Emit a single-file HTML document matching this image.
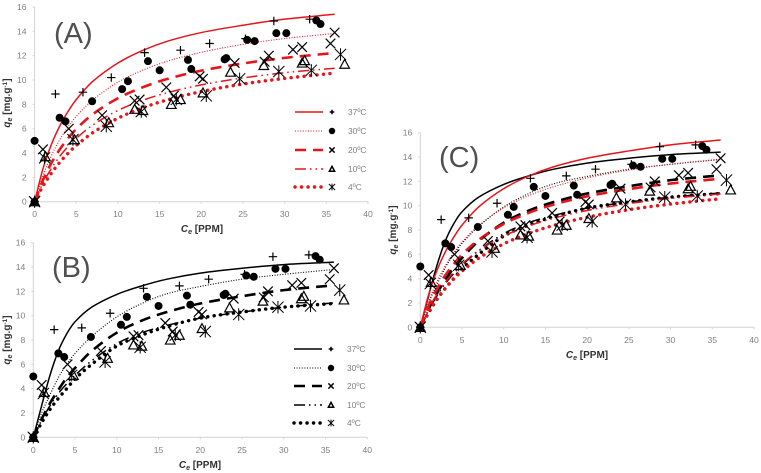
<!DOCTYPE html>
<html>
<head>
<meta charset="utf-8">
<style>
html,body{margin:0;padding:0;background:#fff;}
svg{display:block;filter:blur(0.35px);}
text{font-family:"Liberation Sans",sans-serif;}
</style>
</head>
<body>
<svg id="figure" width="761" height="473" viewBox="0 0 761 473" xmlns="http://www.w3.org/2000/svg"></svg>
<script>
// ---- Data ----
const xTicks = [0, 5, 10, 15, 20, 25, 30, 35, 40];
const yTicks = [0, 2, 4, 6, 8, 10, 12, 14, 16];
const temperatures = ['37ºC', '30ºC', '20ºC', '10ºC', '4ºC'];

const ce37 = [0, 2.5, 5.8, 9.2, 13.2, 17.5, 21, 25.3, 28.7, 33];
const qe37 = [0, 8.85, 9, 10.2, 12.25, 12.45, 13, 13.4, 14.85, 15];
const ce30 = [0, 0, 3, 3.7, 6.9, 10.5, 11.2, 13.6, 15, 18.4, 18.8, 22.8, 23, 25.5, 26.4, 29, 30.2, 33.8, 34.3];
const qe30 = [0, 5, 6.9, 6.6, 8.25, 9.25, 9.9, 11.55, 10.8, 11.65, 10.9, 11.7, 11.8, 13.3, 13.2, 13.85, 13.85, 14.9, 14.6];
const ce20 = [0, 1, 4.1, 8.1, 12, 12.6, 15.8, 16.7, 19.8, 20.2, 24, 27.6, 28.1, 31, 32.1, 35.5, 36];
const qe20 = [0, 4.3, 6, 7.1, 8.3, 8.4, 9.4, 8.7, 10.3, 10.1, 11.4, 11.5, 12, 12.5, 12.7, 13, 13.9];
const ce10 = [0, 1.3, 4.8, 8.9, 12, 13, 16.4, 17.5, 20.2, 23.5, 27.5, 32.1, 32.4, 37.2];
const qe10 = [0, 3.7, 5.1, 6.5, 7.6, 7.5, 8, 8.4, 8.95, 10.65, 11.2, 11.4, 11.6, 11.3];
const ce4 = [0, 1.2, 4.6, 8.6, 12.8, 17, 20.6, 24.6, 29.3, 33.2, 36.7];
const qe4 = [0, 3.6, 5.1, 6.2, 7.4, 8.4, 8.7, 10.1, 10.7, 10.8, 12.1];

const curveCe = [0, 1, 2, 3, 4, 5, 7, 10, 13, 16, 20, 25, 30, 36];
const red37 = [0, 2.7, 4.68, 6.2, 7.4, 8.4, 9.9, 11.4, 12.44, 13.2, 13.9, 14.5, 15, 15.4];
const red30 = [0, 2.13, 3.77, 5.07, 6.13, 7.01, 8.38, 9.82, 10.82, 11.56, 12.28, 12.93, 13.41, 13.83];
const red20 = [0, 1.77, 3.16, 4.28, 5.2, 5.98, 7.2, 8.5, 9.41, 10.1, 10.77, 11.36, 11.82, 12.22];
const red10 = [0, 1.52, 2.72, 3.71, 4.53, 5.21, 6.31, 7.5, 8.34, 8.97, 9.6, 10.17, 10.6, 10.97];
const red4 = [0, 1.28, 2.33, 3.22, 3.97, 4.62, 5.68, 6.86, 7.72, 8.38, 9.05, 9.67, 10.13, 10.57];
const black37 = [0, 2.6, 5.1, 7.1, 8.5, 9.5, 10.7, 11.75, 12.45, 13, 13.5, 13.9, 14.2, 14.4];
const black30 = [0, 2, 3.5, 4.9, 6, 6.9, 8.3, 9.9, 11, 11.8, 12.4, 13, 13.4, 13.8];
const black20 = [0, 1.5, 2.8, 3.9, 4.9, 5.7, 7.1, 8.6, 9.6, 10.3, 11, 11.6, 12.1, 12.5];
const black10 = [0, 1.4, 2.6, 3.6, 4.4, 5.1, 6.3, 7.7, 8.6, 9.2, 9.8, 10.3, 10.7, 11.05];
const black4 = [0, 1.2, 2.3, 3.2, 4, 4.8, 6, 7.5, 8.4, 9.1, 9.8, 10.3, 10.7, 11];

// ---- Helpers ----
const svg = document.getElementById('figure');
const NS = 'http://www.w3.org/2000/svg';
const RED = '#e8141c';
const BLACK = '#000';
const MUTED = '#7f7f7f';

function mk(tag, attrs, parent) {
  const el = document.createElementNS(NS, tag);
  for (const k in attrs) el.setAttribute(k, attrs[k]);
  (parent || svg).appendChild(el);
  return el;
}

function smoothPath(pts) {
  let d = 'M' + pts[0][0].toFixed(2) + ' ' + pts[0][1].toFixed(2);
  for (let i = 0; i < pts.length - 1; i++) {
    const p0 = pts[Math.max(0, i - 1)], p1 = pts[i], p2 = pts[i + 1], p3 = pts[Math.min(pts.length - 1, i + 2)];
    const h = p2[0] - p1[0];
    const m1 = (p2[1] - p0[1]) / (p2[0] - p0[0] || 1);
    const m2 = (p3[1] - p1[1]) / (p3[0] - p1[0] || 1);
    const c1x = p1[0] + h / 3, c1y = p1[1] + m1 * h / 3;
    const c2x = p2[0] - h / 3, c2y = p2[1] - m2 * h / 3;
    d += 'C' + c1x.toFixed(2) + ' ' + c1y.toFixed(2) + ' ' + c2x.toFixed(2) + ' ' + c2y.toFixed(2) + ' ' + p2[0].toFixed(2) + ' ' + p2[1].toFixed(2);
  }
  return d;
}

const styles = [
  {w: 1.5, dash: null, cap: 'butt'},
  {w: 1.1, dash: '1 1.6', cap: 'butt'},
  {w: 2.6, dash: '11 7', cap: 'butt'},
  {w: 1.5, dash: '11 4 1.5 4 1.5 4', cap: 'butt'},
  {w: 3.4, dash: '0.1 6.4', cap: 'round'}
];

function marker(kind, cx, cy, parent, big) {
  const g = mk('g', {fill: 'none', stroke: '#000', 'stroke-width': big ? 1.2 : 1.5}, parent);
  
  
  const s = big ? 1 : 0.55;
  if (kind === 'plus') {
    const r = 4.2 * s;
    mk('path', {d: `M${cx - r} ${cy}H${cx + r}M${cx} ${cy - r}V${cy + r}`}, g);
  } else if (kind === 'dot') {
    mk('circle', {cx: cx, cy: cy, r: 4 * (big ? 1 : 0.8), fill: '#000', stroke: 'none'}, g);
  } else if (kind === 'x') {
    const r = 4.8 * s;
    mk('path', {d: `M${cx - r} ${cy - r}L${cx + r} ${cy + r}M${cx - r} ${cy + r}L${cx + r} ${cy - r}`}, g);
  } else if (kind === 'tri') {
    const r = 4.8 * s;
    mk('path', {d: `M${cx} ${cy - r}L${cx + r} ${cy + r * 0.85}H${cx - r}Z`}, g);
  } else {
    const r = 5.6 * s;
    mk('path', {d: `M${cx - r} ${cy - r}L${cx + r} ${cy + r}M${cx - r} ${cy + r}L${cx + r} ${cy - r}M${cx} ${cy - r * 1.1}V${cy + r * 1.1}`, 'stroke-width': 1}, g);
  }
}

const kinds = ['plus', 'dot', 'x', 'tri', 'star'];
const scatter = [[ce37, qe37], [ce30, qe30], [ce20, qe20], [ce10, qe10], [ce4, qe4]];
const redSeries = [red37, red30, red20, red10, red4];
const blackSeries = [black37, black30, black20, black10, black4];

function drawPanel(cfg) {
  const g = mk('g', {});
  
  
  const xS = v => cfg.x0 + (v / 40) * (cfg.x40 - cfg.x0);
  const yS = v => cfg.y0 - (v / 16) * (cfg.y0 - cfg.y16);

  const xAxis = mk('path', {d: `M${cfg.x0} ${cfg.y0}H${cfg.x40}`, stroke: '#d4d4d4', 'stroke-width': 1, fill: 'none'}, g);
  
  
  const yAxis = mk('path', {d: `M${cfg.x0} ${cfg.y0}V${cfg.y16}`, stroke: '#d4d4d4', 'stroke-width': 1, fill: 'none'}, g);
  
  

  xTicks.forEach(t => {
    mk('path', {d: `M${xS(t)} ${cfg.y0}v2`, stroke: '#d4d4d4'}, g);
    const lab = mk('text', {x: xS(t), y: cfg.y0 + 15.5, 'text-anchor': 'middle', 'font-size': 8.6, fill: MUTED}, g);
    
    
    lab.textContent = t;
  });
  yTicks.forEach(t => {
    mk('path', {d: `M${cfg.x0 - 2} ${yS(t)}h2`, stroke: '#d4d4d4'}, g);
    const lab = mk('text', {x: cfg.x0 - 8, y: yS(t) + 3, 'text-anchor': 'end', 'font-size': 8.6, fill: MUTED}, g);
    
    
    lab.textContent = t;
  });

  const xt = mk('text', {x: cfg.xTitle[0], y: cfg.xTitle[1], 'text-anchor': 'middle', 'font-size': 10, 'font-weight': 'bold', fill: '#333'}, g);
  
  
  xt.innerHTML = '<tspan font-style="italic">C</tspan><tspan font-style="italic" font-size="7" dy="2">e</tspan><tspan dy="-2"> [PPM]</tspan>';

  const yt = mk('text', {transform: `translate(${cfg.yTitle[0]} ${cfg.yTitle[1]}) rotate(-90)`, 'text-anchor': 'middle', 'font-size': 10, 'font-weight': 'bold', fill: '#333'}, g);
  
  
  yt.innerHTML = '<tspan font-style="italic">q</tspan><tspan font-style="italic" font-size="7" dy="2">e</tspan><tspan dy="-2"> [mg.g</tspan><tspan font-size="6.5" dy="-3">-1</tspan><tspan dy="3">]</tspan>';

  const lb = mk('text', {x: cfg.label[0], y: cfg.label[1], 'font-size': 29, fill: '#505050'}, g);
  
  
  lb.textContent = '(' + cfg.id.toUpperCase() + ')';

  // Curves are drawn from the data arrays
  cfg.curves.forEach(set => {
    set.series.forEach((vals, i) => {
      const pts = curveCe.map((c, j) => [xS(c), yS(vals[j])]);
      const st = styles[i];
      const attrs = {d: smoothPath(pts), fill: 'none', stroke: set.color, 'stroke-width': st.w, 'stroke-linecap': st.cap};
      if (st.dash) attrs['stroke-dasharray'] = st.dash;
      const p = mk('path', attrs, g);
      
      
    });
  });

  // Data points
  scatter.forEach((pair, i) => {
    pair[0].forEach((c, j) => marker(kinds[i], xS(c), yS(pair[1][j]), g, true));
  });

  // Legend
  if (cfg.legend) {
    temperatures.forEach((t, i) => {
      const y = cfg.legend.ys[i];
      const st = styles[i];
      const leg = mk('g', {}, g);
      
      
      const attrs = {d: `M${cfg.legend.x} ${y}h28`, fill: 'none', stroke: cfg.legend.color, 'stroke-width': st.w, 'stroke-linecap': st.cap};
      if (st.dash) attrs['stroke-dasharray'] = st.dash;
      mk('path', attrs, leg);
      marker(kinds[i], cfg.legend.x + 37, y, leg, false);
      const tx = mk('text', {x: cfg.legend.x + 53, y: y + 3, 'font-size': 8.4, fill: MUTED}, leg);
      tx.textContent = t;
    });
  }
}

drawPanel({
  id: 'a', x0: 34.6, x40: 368, y0: 201.7, y16: 7,
  xTitle: [202, 232], yTitle: [10, 103], label: [54, 43],
  curves: [{color: RED, series: redSeries}],
  legend: {x: 295, color: RED, ys: [112, 131, 150, 169, 187]}
});
drawPanel({
  id: 'b', x0: 33.3, x40: 367.3, y0: 437.3, y16: 242.7,
  xTitle: [200, 468], yTitle: [10, 340], label: [52, 277],
  curves: [{color: BLACK, series: blackSeries}],
  legend: {x: 294, color: BLACK, ys: [349, 368, 386, 405, 423]}
});
drawPanel({
  id: 'c', x0: 420.3, x40: 754, y0: 327.3, y16: 132.7,
  xTitle: [587, 358], yTitle: [396, 230], label: [439, 167],
  curves: [{color: BLACK, series: blackSeries}, {color: RED, series: redSeries}]
});
</script>
</body>
</html>
